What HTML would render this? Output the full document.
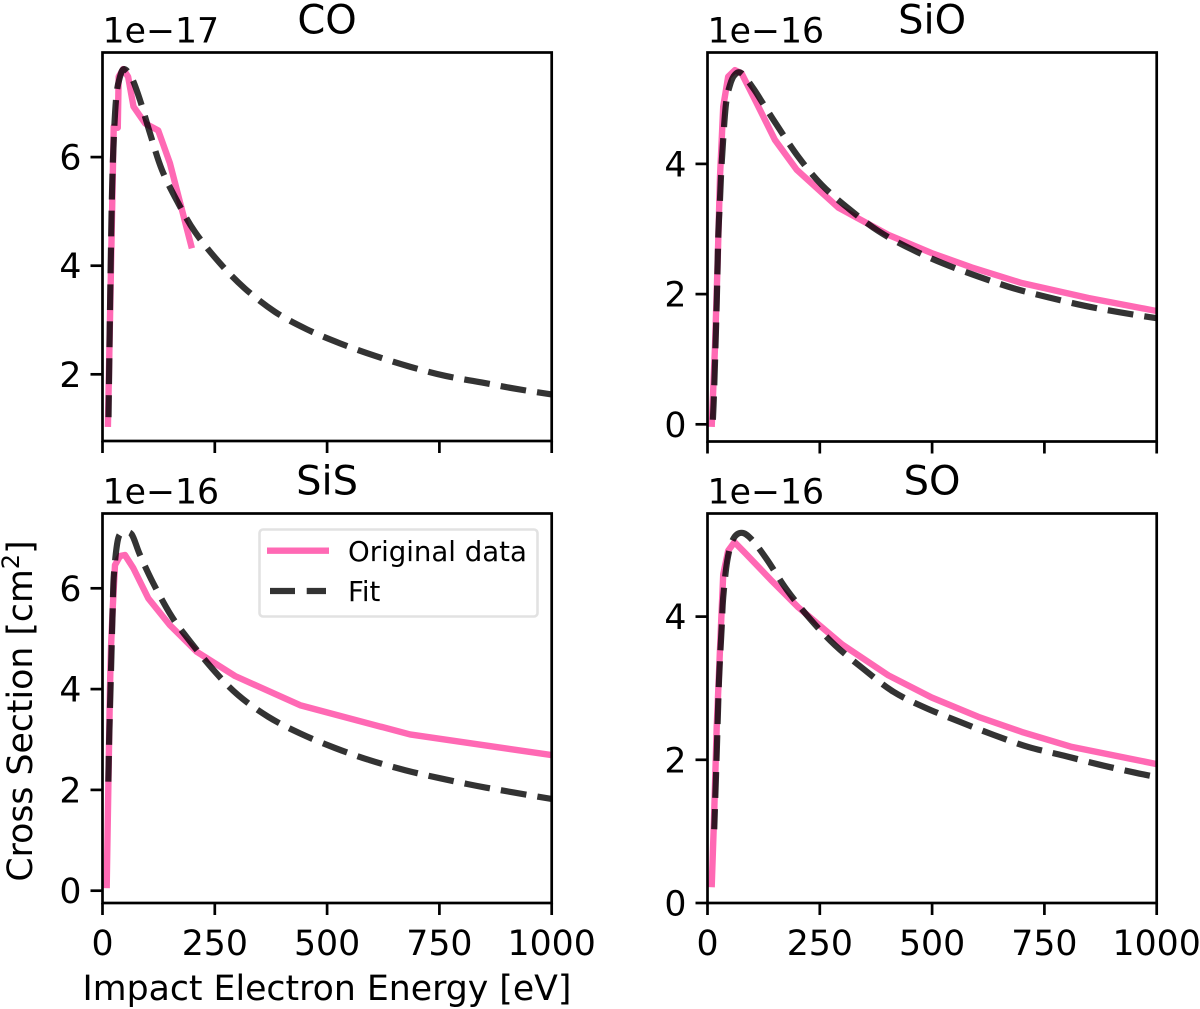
<!DOCTYPE html>
<html lang="en">
<head>
<meta charset="utf-8">
<title>Electron impact cross sections</title>
<style>
html,body{margin:0;padding:0;background:#fff;width:1200px;height:1009px;overflow:hidden}
svg{display:block}
text{font-family:"DejaVu Sans","Liberation Sans",sans-serif;fill:#000}
</style>
</head>
<body>
<svg id="chart" xmlns="http://www.w3.org/2000/svg" width="1200" height="1009" viewBox="0 0 1200 1009">
  <rect width="1200" height="1009" fill="#fff"/>
</svg>
<script>
// ---- data (energy in eV, cross section in units of each panel's offset) ----
const xTickValues = [0, 250, 500, 750, 1000];
const xTickLabels = ['0', '250', '500', '750', '1000'];

const coTicks = [2, 4, 6];
const sioTicks = [0, 2, 4];
const sisTicks = [0, 2, 4, 6];
const soTicks = [0, 2, 4];

const coDataE = [12, 25, 34, 36, 46, 57, 69, 95, 124, 150, 199];
const coDataV = [1.03, 6.56, 6.54, 7.48, 7.62, 7.48, 6.93, 6.62, 6.49, 5.89, 4.32];
const coFitE = [13.4, 18.3, 22.7, 30, 39, 48.5, 65, 83.5, 105.7, 132.5, 168.7, 206, 260, 317, 384, 454.6, 528.7, 606.6, 684.6, 764, 844, 922, 1000];
const coFitV = [1.21, 4.05, 5.82, 7.05, 7.48, 7.62, 7.46, 7.05, 6.44, 5.76, 5.15, 4.62, 4.06, 3.58, 3.15, 2.83, 2.57, 2.34, 2.14, 1.97, 1.85, 1.73, 1.63];

const sioDataE = [9.3, 16.7, 22.7, 27.8, 35, 46, 61, 76, 106, 150, 198.6, 291, 402.5, 499, 588, 699.5, 848, 1000];
const sioDataV = [-0.04, 1.19, 2.52, 3.8, 4.88, 5.34, 5.44, 5.39, 4.98, 4.37, 3.91, 3.33, 2.91, 2.63, 2.41, 2.17, 1.94, 1.74];
const sioFitE = [12, 15, 20.5, 24, 27.8, 31.6, 40.5, 50, 61, 76, 102, 120.6, 154, 202, 254, 313, 380, 451, 525, 603, 681, 759, 840, 918, 1000];
const sioFitV = [0.07, 0.58, 1.86, 2.88, 3.45, 4.01, 4.88, 5.21, 5.37, 5.39, 5.16, 4.96, 4.6, 4.11, 3.68, 3.32, 2.97, 2.7, 2.47, 2.27, 2.09, 1.95, 1.82, 1.72, 1.63];

const sisDataE = [9.3, 13, 16.7, 19, 22.7, 27.8, 39, 50, 68.6, 102, 150, 210, 295, 440, 684.6, 1000];
const sisDataV = [0.05, 2.06, 4.05, 4.84, 5.6, 6.46, 6.64, 6.66, 6.4, 5.8, 5.27, 4.74, 4.26, 3.68, 3.1, 2.69];
const sisFitE = [13, 15, 19, 22.7, 25.6, 35, 48.5, 65, 83.5, 113, 150, 184, 247, 302, 369, 440, 518, 595, 674, 752, 833, 915, 1000];
const sisFitV = [2.16, 3.06, 4.38, 5.6, 6.3, 6.99, 7.09, 7.07, 6.66, 6.1, 5.5, 5.07, 4.38, 3.88, 3.45, 3.12, 2.83, 2.59, 2.39, 2.23, 2.08, 1.95, 1.82];

const soDataE = [9.3, 14.5, 20.5, 30, 35, 46, 60, 83.5, 143, 202, 300, 402.5, 499, 603, 699.5, 811, 1000];
const soDataV = [0.22, 1.17, 2.46, 3.87, 4.59, 4.92, 5.04, 4.89, 4.5, 4.13, 3.61, 3.18, 2.87, 2.6, 2.39, 2.18, 1.94];
const soFitE = [15, 20.5, 25.6, 31.6, 35, 44, 57, 76, 98, 132, 176, 228, 284, 347, 414, 484, 562, 636, 714, 792, 874, 952, 1000];
const soFitV = [1.03, 2.09, 3.11, 3.85, 4.27, 4.78, 5.08, 5.17, 5.08, 4.8, 4.38, 3.97, 3.6, 3.27, 2.95, 2.73, 2.53, 2.35, 2.18, 2.06, 1.93, 1.82, 1.76];

const titles = ['CO', 'SiO', 'SiS', 'SO'];
const offsets = ['1e\u221217', '1e\u221216', '1e\u221216', '1e\u221216'];

const NS = 'http://www.w3.org/2000/svg';
const svg = document.getElementById('chart');
const PINK = '#ff69b4';
const LW_DATA = 6.4;
const LW_FIT = 6.2;
const DASH_ON = 25.8;
const DASH_OFF = 11.1;
const FS = 34.7;

function mk(tag, attrs, parent, txt) {
  const el = document.createElementNS(NS, tag);
  for (const k in attrs) el.setAttribute(k, attrs[k]);
  if (txt !== undefined) el.textContent = txt;
  (parent || svg).appendChild(el);
  return el;
}

function linePath(xs, ys) {
  return xs.map((x, i) => (i ? 'L' : 'M') + x.toFixed(2) + ' ' + ys[i].toFixed(2)).join(' ');
}
function smoothPath(xs, ys) {
  let d = 'M' + xs[0].toFixed(2) + ' ' + ys[0].toFixed(2);
  for (let i = 0; i < xs.length - 1; i++) {
    const p0 = Math.max(i - 1, 0), p3 = Math.min(i + 2, xs.length - 1);
    const c1x = xs[i] + (xs[i + 1] - xs[p0]) / 6, c1y = ys[i] + (ys[i + 1] - ys[p0]) / 6;
    const c2x = xs[i + 1] - (xs[p3] - xs[i]) / 6, c2y = ys[i + 1] - (ys[p3] - ys[i]) / 6;
    d += ' C' + c1x.toFixed(2) + ' ' + c1y.toFixed(2) + ' ' + c2x.toFixed(2) + ' ' + c2y.toFixed(2) + ' ' + xs[i + 1].toFixed(2) + ' ' + ys[i + 1].toFixed(2);
  }
  return d;
}

function drawPanel(idx, left, right, top, bottom, yMin, yMax, yTicks, dataE, dataV, fitE, fitV, showXLabels, endPhase) {
  const sx = e => left + (e / 1000) * (right - left);
  const sy = v => bottom - (v - yMin) / (yMax - yMin) * (bottom - top);

  const g = mk('g', {});
  
  

  const clip = mk('clipPath', { id: 'clip' + idx }, g);
  mk('rect', { x: left, y: top, width: right - left, height: bottom - top }, clip);

  const dataLine = mk('path', {
    d: linePath(dataE.map(sx), dataV.map(sy)), fill: 'none', stroke: PINK,
    'stroke-width': LW_DATA, 'stroke-linejoin': 'round', 'clip-path': 'url(#clip' + idx + ')'
  }, g);
  
  

  const fitLine = mk('path', {
    d: smoothPath(fitE.map(sx), fitV.map(sy)), fill: 'none', stroke: '#000', 'stroke-opacity': 0.8,
    'stroke-width': LW_FIT, 'stroke-dasharray': DASH_ON + ' ' + DASH_OFF, 'clip-path': 'url(#clip' + idx + ')'
  }, g);
  
  
  // anchor the dash phase at the right-hand end of the curve
  const period = DASH_ON + DASH_OFF;
  const len = fitLine.getTotalLength();
  fitLine.setAttribute('stroke-dashoffset', (((endPhase - len) % period) + period) % period);

  const frame = mk('rect', { x: left, y: top, width: right - left, height: bottom - top, fill: 'none', stroke: '#000', 'stroke-width': 2.7 }, g);
  
  

  xTickValues.forEach((t, i) => {
    const x = sx(t);
    const tick = mk('line', { x1: x, x2: x, y1: bottom, y2: bottom + 12, stroke: '#000', 'stroke-width': 2.7 }, g);
    
    
    if (showXLabels) {
      const lab = mk('text', { x: x, y: bottom + 52, 'text-anchor': 'middle', 'font-size': FS }, g, xTickLabels[i]);
      
      
    }
  });

  yTicks.forEach(t => {
    const y = sy(t);
    const tick = mk('line', { x1: left - 12, x2: left, y1: y, y2: y, stroke: '#000', 'stroke-width': 2.7 }, g);
    
    
    const lab = mk('text', { x: left - 21, y: y + 12.5, 'text-anchor': 'end', 'font-size': FS }, g, String(t));
    
    
  });

  const title = mk('text', { x: (left + right) / 2, y: top - 19, 'text-anchor': 'middle', 'font-size': 40 }, g, titles[idx]);
  
  

  const off = mk('text', { x: left, y: top - 10, 'font-size': FS }, g, offsets[idx]);
  
  
}

drawPanel(0, 102.5, 551.7, 52.5, 441, 0.772, 7.926, coTicks, coDataE, coDataV, coFitE, coFitV, false, 15);
drawPanel(1, 707.5, 1156.7, 52.5, 441.5, -0.264, 5.711, sioTicks, sioDataE, sioDataV, sioFitE, sioFitV, false, 12.7);
drawPanel(2, 102.5, 551.7, 513.5, 903, -0.244, 7.484, sisTicks, sisDataE, sisDataV, sisFitE, sisFitV, true, 14.7);
drawPanel(3, 707.5, 1156.7, 513.5, 903, 0, 5.44, soTicks, soDataE, soDataV, soFitE, soFitV, true, 33);

// legend
const legend = mk('g', {});


const box = mk('rect', { x: 259.5, y: 529.5, width: 278, height: 87, rx: 3.5, fill: '#fff', 'fill-opacity': 0.8, stroke: '#e2e2e2', 'stroke-width': 2.6 }, legend);


const l1 = mk('line', { x1: 267, x2: 329, y1: 550.7, y2: 550.7, stroke: PINK, 'stroke-width': LW_DATA }, legend);


const t1 = mk('text', { x: 348, y: 561, 'font-size': 27.6 }, legend, 'Original data');


const l2 = mk('line', { x1: 270, x2: 326, y1: 591, y2: 591, stroke: '#000', 'stroke-opacity': 0.8, 'stroke-width': LW_FIT, 'stroke-dasharray': '25 11.7' }, legend);


const t2 = mk('text', { x: 348, y: 601, 'font-size': 27.6 }, legend, 'Fit');



// axis titles
const xTitle = mk('text', { x: 327, y: 1000, 'text-anchor': 'middle', 'font-size': FS }, svg, 'Impact Electron Energy [eV]');



const yTitle = mk('text', { transform: 'translate(32 711) rotate(-90)', 'text-anchor': 'middle', 'font-size': FS }, svg);


mk('tspan', {}, yTitle, 'Cross Section [cm');
mk('tspan', { dy: -13, 'font-size': 24 }, yTitle, '2');
mk('tspan', { dy: 13 }, yTitle, ']');
</script>
</body>
</html>
